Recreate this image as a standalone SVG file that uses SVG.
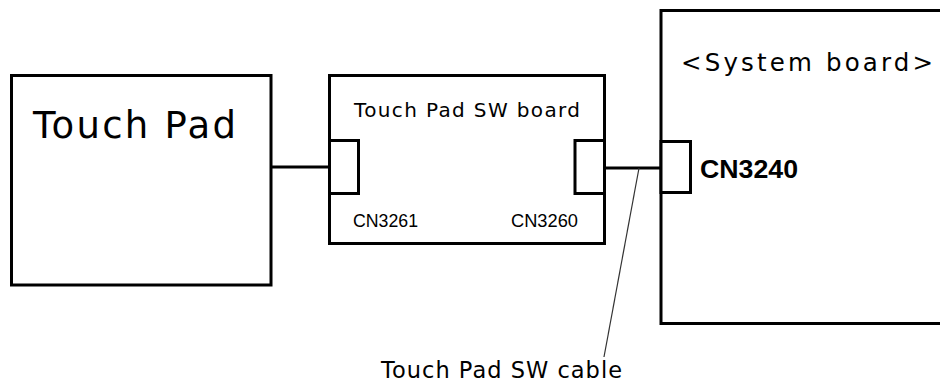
<svg xmlns="http://www.w3.org/2000/svg" width="940" height="383" viewBox="0 0 940 383">
  <style>
    .box { fill: #ffffff; stroke: #000000; stroke-width: 3; }
    .conn { fill: #ffffff; stroke: #000000; stroke-width: 3; }
    .wire { fill: none; stroke: #000000; stroke-width: 3; }
    .leader { fill: none; stroke: #333333; stroke-width: 1.2; }
    .t { font-family: "DejaVu Sans", "Liberation Sans", sans-serif; fill: #000000; }
    .cn { font-family: "Liberation Sans", Arial, sans-serif; fill: #000000; }
  </style>
  <rect width="940" height="383" fill="#ffffff"/>

  <g id="touch-pad">
    <rect class="box" x="11.5" y="75.5" width="259.5" height="209.5"/>
    <text class="t" x="33" y="137.5" font-size="37" textLength="203" lengthAdjust="spacing">Touch Pad</text>
  </g>

  <g id="sw-board">
    <rect class="box" x="329.5" y="75.5" width="275" height="168"/>
    <rect class="conn" x="329.5" y="140.5" width="29" height="53"/>
    <rect class="conn" x="575" y="140.5" width="29.5" height="53"/>
    <text class="t" x="354" y="116.5" font-size="20" textLength="226" lengthAdjust="spacing">Touch Pad SW board</text>
    <text class="cn" x="353" y="227" font-size="19" textLength="65" lengthAdjust="spacingAndGlyphs">CN3261</text>
    <text class="cn" x="511" y="227" font-size="19" textLength="67" lengthAdjust="spacingAndGlyphs">CN3260</text>
  </g>

  <g id="system-board">
    <rect class="box" x="661" y="10.5" width="300" height="313"/>
    <rect class="conn" x="661" y="141.5" width="29.5" height="51"/>
    <text class="t" x="681" y="71" font-size="24.5" textLength="252" lengthAdjust="spacing">&lt;System board&gt;</text>
    <text class="cn" x="700" y="178" font-size="26" font-weight="bold" textLength="98" lengthAdjust="spacingAndGlyphs">CN3240</text>
  </g>

  <g id="connectors">
    <line class="wire" x1="271" y1="167" x2="329.5" y2="167"/>
    <line class="wire" x1="604.5" y1="168" x2="661" y2="168" stroke-width="2.6"/>
    <line class="leader" x1="639" y1="168" x2="604" y2="357"/>
  </g>

  <g id="cable-label">
    <text class="t" x="381" y="378" font-size="22.5" textLength="241" lengthAdjust="spacing">Touch Pad SW cable</text>
  </g>
</svg>
